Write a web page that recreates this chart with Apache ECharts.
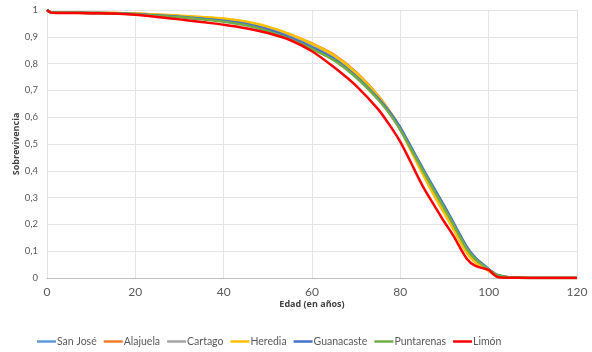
<!DOCTYPE html>
<html>
<head>
<meta charset="utf-8">
<script src="https://cdn.jsdelivr.net/npm/echarts@6/dist/echarts.min.js"></script>
<style>
  html, body { margin: 0; padding: 0; background: #fff; }
  #chart { width: 592px; height: 352px; }
</style>
</head>
<body>
<div id="chart"></div>
<script>
// edades (eje x)
var ages = [0, 1, 5, 10, 15, 20, 25, 30, 35, 40, 45, 50, 55, 60, 65, 70, 75, 78, 80, 82, 85, 88, 90, 92, 95, 97, 100, 101, 102, 104, 107, 110, 120];

var sanJose     = [1, 0.991, 0.990, 0.989, 0.988, 0.985, 0.980, 0.975, 0.968, 0.960, 0.948, 0.928, 0.899, 0.862, 0.818, 0.752, 0.668, 0.605, 0.555, 0.492, 0.400, 0.312, 0.255, 0.196, 0.108, 0.068, 0.030, 0.018, 0.010, 0.004, 0.001, 0.0003, 0];
var alajuela    = [1, 0.991, 0.990, 0.989, 0.989, 0.987, 0.982, 0.978, 0.972, 0.966, 0.955, 0.936, 0.909, 0.875, 0.833, 0.768, 0.680, 0.612, 0.558, 0.492, 0.396, 0.303, 0.246, 0.188, 0.100, 0.060, 0.030, 0.022, 0.008, 0.003, 0.001, 0.0003, 0];
var cartago     = [1, 0.991, 0.990, 0.989, 0.988, 0.986, 0.981, 0.977, 0.970, 0.964, 0.953, 0.933, 0.905, 0.869, 0.826, 0.760, 0.674, 0.608, 0.556, 0.492, 0.398, 0.308, 0.250, 0.192, 0.104, 0.064, 0.030, 0.019, 0.010, 0.004, 0.001, 0.0003, 0];
var heredia     = [1, 0.991, 0.990, 0.989, 0.989, 0.987, 0.983, 0.979, 0.974, 0.968, 0.957, 0.938, 0.910, 0.874, 0.830, 0.765, 0.678, 0.610, 0.556, 0.488, 0.390, 0.297, 0.240, 0.182, 0.095, 0.058, 0.026, 0.015, 0.008, 0.003, 0.001, 0.0003, 0];
var guanacaste  = [1, 0.991, 0.990, 0.989, 0.988, 0.985, 0.980, 0.975, 0.968, 0.960, 0.948, 0.927, 0.898, 0.861, 0.817, 0.752, 0.670, 0.610, 0.562, 0.502, 0.412, 0.325, 0.268, 0.208, 0.118, 0.076, 0.034, 0.020, 0.011, 0.004, 0.001, 0.0003, 0];
var puntarenas  = [1, 0.991, 0.990, 0.989, 0.988, 0.984, 0.979, 0.973, 0.965, 0.956, 0.943, 0.921, 0.891, 0.855, 0.812, 0.748, 0.665, 0.603, 0.553, 0.494, 0.404, 0.316, 0.259, 0.200, 0.110, 0.070, 0.032, 0.019, 0.010, 0.004, 0.001, 0.0003, 0];
var limon       = [1, 0.990, 0.989, 0.988, 0.987, 0.982, 0.974, 0.965, 0.955, 0.945, 0.932, 0.914, 0.888, 0.846, 0.786, 0.717, 0.629, 0.560, 0.508, 0.444, 0.345, 0.262, 0.208, 0.158, 0.073, 0.045, 0.030, 0.015, 0.004, 0.001, 0.0005, 0.0002, 0];

var names  = ['San José', 'Alajuela', 'Cartago', 'Heredia', 'Guanacaste', 'Puntarenas', 'Limón'];
var values = [sanJose, alajuela, cartago, heredia, guanacaste, puntarenas, limon];
var colors = ['#5B9BD5', '#ED7D31', '#A5A5A5', '#FFC000', '#4472C4', '#70AD47', '#FF0000'];

var chart = echarts.init(document.getElementById('chart'));

var font = 'Lato, "Open Sans", sans-serif';

chart.setOption({
    animation: false,
    color: colors,
    textStyle: { fontFamily: font },
    grid: { left: 47, right: 15, top: 10, bottom: 74, outerBoundsMode: 'none' },
    legend: {
        bottom: 5,
        left: 37,
        padding: 0,
        icon: 'rect',
        itemWidth: 19,
        itemHeight: 2.5,
        itemGap: 7,
        textStyle: { fontSize: 10.5, color: '#595959', fontFamily: font, padding: [0, 0, 0, -4] },
        data: names
    },
    xAxis: {
        type: 'value',
        min: 0,
        max: 120,
        interval: 20,
        name: 'Edad (en años)',
        nameLocation: 'middle',
        nameGap: 22,
        nameMoveOverlap: false,
        nameTextStyle: { fontSize: 9, fontWeight: 'bold', color: '#404040', fontFamily: '"Open Sans", sans-serif' },
        axisLine: { lineStyle: { color: '#bfbfbf' } },
        axisTick: { show: false },
        axisLabel: { fontSize: 12, color: '#595959', margin: 8 },
        splitLine: { show: true, lineStyle: { color: '#e4e4e4' } }
    },
    yAxis: {
        type: 'value',
        min: 0,
        max: 1,
        interval: 0.1,
        name: 'Sobrevivencia',
        nameLocation: 'middle',
        nameGap: 26,
        nameMoveOverlap: false,
        nameTextStyle: { fontSize: 9, fontWeight: 'bold', color: '#404040', fontFamily: '"Open Sans", sans-serif' },
        axisLine: { show: true, lineStyle: { color: '#e0e0e0' } },
        axisTick: { show: false },
        axisLabel: {
            fontSize: 9.5, color: '#595959', margin: 9,
            formatter: function (v) {
                if (v === 0 || v === 1) return String(v);
                return v.toFixed(1).replace('.', ',');
            }
        },
        splitLine: { show: true, lineStyle: { color: '#e4e4e4' } }
    },
    series: names.map(function (n, i) {
        return {
            name: n,
            type: 'line',
            smooth: 0.3,
            symbol: 'none',
            lineStyle: { width: 2.5, color: colors[i] },
            itemStyle: { color: colors[i] },
            data: ages.map(function (a, j) { return [a, values[i][j]]; })
        };
    })
});
</script>
</body>
</html>
